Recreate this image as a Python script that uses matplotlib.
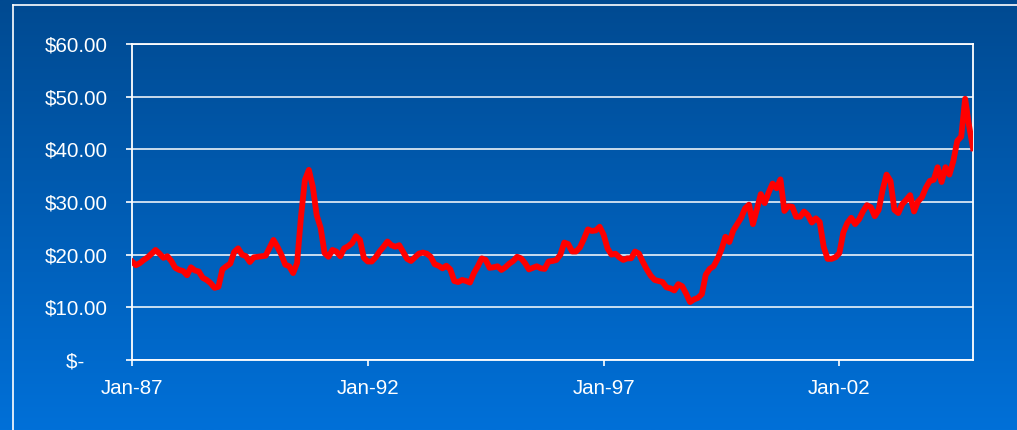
import numpy as np
import matplotlib
matplotlib.use("Agg")
from matplotlib import pyplot as plt
from matplotlib.lines import Line2D

# monthly oil price, Jan-87 .. Nov-04
prices = [
    18.7, 18.0, 18.4, 19.0, 19.5, 20.2, 20.9, 20.2, 19.4, 19.7, 18.8, 17.5,   # 1987
    17.1, 16.9, 16.1, 17.6, 17.0, 16.8, 15.6, 15.2, 14.6, 13.7, 13.9, 17.2,   # 1988
    17.8, 18.3, 20.5, 21.2, 20.0, 19.7, 18.6, 19.5, 19.6, 19.7, 19.8, 21.3,   # 1989
    22.8, 21.5, 20.0, 18.1, 17.8, 16.5, 18.4, 27.2, 34.2, 36.1, 32.9, 27.5,   # 1990
    25.1, 20.3, 19.6, 20.9, 20.6, 19.7, 21.2, 21.6, 22.2, 23.5, 22.8, 19.4,   # 1991
    18.7, 18.7, 19.5, 20.6, 21.5, 22.5, 21.8, 21.5, 21.8, 20.5, 19.2, 18.8,   # 1992
    19.5, 20.2, 20.4, 20.2, 19.6, 18.2, 17.9, 17.4, 17.9, 17.2, 15.0, 14.8,   # 1993
    15.2, 15.0, 14.7, 16.5, 17.8, 19.3, 19.0, 17.5, 17.6, 17.8, 17.1, 17.6,   # 1994
    18.3, 18.8, 19.6, 19.3, 18.4, 17.2, 17.5, 17.8, 17.4, 17.3, 18.7, 18.8,   # 1995
    19.0, 20.0, 22.3, 22.0, 20.6, 20.6, 21.4, 23.0, 24.8, 24.5, 24.6, 25.3,   # 1996
    23.8, 21.2, 20.0, 20.2, 19.5, 19.0, 19.3, 19.3, 20.6, 20.2, 18.6, 17.2,   # 1997
    16.0, 15.2, 15.0, 14.8, 13.8, 13.6, 13.2, 14.4, 14.0, 12.6, 11.0, 11.5,   # 1998
    11.8, 12.5, 16.2, 17.3, 17.8, 19.2, 21.0, 23.4, 22.4, 24.6, 25.8, 27.0,   # 1999
    28.8, 29.5, 25.8, 28.6, 31.5, 29.8, 31.8, 33.5, 32.6, 34.3, 28.3, 29.2,   # 2000
    29.1, 27.2, 27.2, 28.2, 27.5, 26.1, 26.9, 26.2, 21.5, 19.2, 19.2, 19.5,   # 2001
    20.3, 24.2, 26.0, 27.0, 25.8, 26.7, 28.2, 29.4, 29.0, 27.3, 28.5, 32.3,   # 2002
    35.2, 34.0, 28.5, 27.9, 29.6, 30.4, 31.3, 28.2, 30.1, 30.9, 32.7, 34.0,   # 2003
    34.2, 36.6, 33.8, 36.6, 35.2, 37.8, 41.6, 42.4, 49.6, 44.5, 40.2,         # 2004
]
xtick_pos = [0, 60, 120, 180]
xtick_labels = ["Jan-87", "Jan-92", "Jan-97", "Jan-02"]
ytick_vals = [0, 10, 20, 30, 40, 50, 60]
# accounting format: the dash sits left of the decimals
ytick_labels = ["$-    ", "$10.00", "$20.00", "$30.00", "$40.00", "$50.00", "$60.00"]

plt.rcParams["font.family"] = ["Liberation Sans", "DejaVu Sans"]

fig = plt.figure(figsize=(10.17, 4.30), dpi=100)

# gradient background
bg = fig.add_axes([0, 0, 1, 1], zorder=-10)
top = np.array([0, 74, 145]) / 255
bot = np.array([0, 112, 216]) / 255
t = np.linspace(0, 1, 256)[:, None]
grad = top[None, :] * (1 - t) + bot[None, :] * t
bg.imshow(grad[:, None, :], aspect="auto", extent=[0, 1, 0, 1])
bg.set_axis_off()

# white frame (left and top edges visible)
fig.add_artist(Line2D([13 / 1017, 13 / 1017], [0, 1 - 5 / 430], transform=fig.transFigure,
                      color="white", lw=1.2))
fig.add_artist(Line2D([13 / 1017, 1], [1 - 5 / 430, 1 - 5 / 430], transform=fig.transFigure,
                      color="white", lw=1.2))

ax = fig.add_axes([132 / 1017, 1 - 360 / 430, (973 - 132) / 1017, (360 - 44) / 430])
ax.patch.set_alpha(0)

x = np.arange(len(prices))
ax.plot(x, prices, color="#ff0000", lw=4.2, solid_joinstyle="round", zorder=3)

ax.set_xlim(0, len(prices) - 1)
ax.set_ylim(0, 60)
ax.set_yticks(ytick_vals)
ax.set_yticklabels(ytick_labels)
ax.set_xticks(xtick_pos)
ax.set_xticklabels(xtick_labels)

ax.grid(axis="y", color="white", lw=1.1, zorder=1)
for s in ax.spines.values():
    s.set_color("white")
    s.set_linewidth(1.3)

ax.tick_params(axis="y", colors="white", length=4.5, width=1.2, pad=13, labelsize=14.8)
ax.tick_params(axis="x", colors="white", length=4.5, width=1.2, pad=9, labelsize=14.8)

fig.savefig("out.png", dpi=100)
